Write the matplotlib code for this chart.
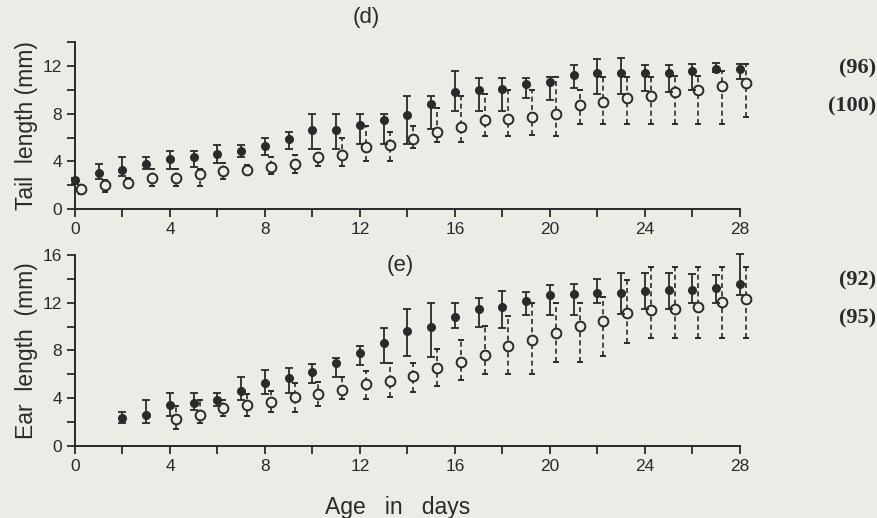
import numpy as np
import matplotlib
matplotlib.use('Agg')
import matplotlib.pyplot as plt
from matplotlib.ticker import MultipleLocator

# tail length (mm), days 0..28
tail_days = np.arange(0, 29)
tail_filled = [2.4, 3.05, 3.3, 3.75, 4.2, 4.4, 4.6, 4.9, 5.3, 5.85, 6.6, 6.6, 7.05, 7.5, 7.9,
               8.8, 9.8, 10.0, 10.1, 10.5, 10.7, 11.25, 11.4, 11.4, 11.45, 11.4, 11.6, 11.75, 11.75]
tail_filled_hi = [2.6, 3.8, 4.4, 4.4, 4.9, 4.9, 5.4, 5.4, 6.0, 6.5, 8.0, 8.0, 8.0, 8.0, 9.5,
                  9.5, 11.6, 11.0, 11.0, 11.0, 11.1, 12.1, 12.6, 12.7, 12.1, 12.1, 12.2, 12.3, 12.2]
tail_filled_lo = [2.1, 2.5, 2.8, 3.4, 3.4, 3.5, 3.9, 4.4, 4.5, 5.0, 5.0, 5.0, 5.5, 5.5, 5.5,
                  6.7, 8.2, 8.2, 8.2, 9.3, 9.15, 10.2, 9.7, 9.7, 9.9, 9.8, 10.0, 11.5, 10.9]
tail_open = [1.65, 2.0, 2.15, 2.6, 2.6, 2.9, 3.2, 3.3, 3.55, 3.75, 4.4, 4.5, 5.2, 5.4, 5.9,
             6.5, 6.85, 7.5, 7.6, 7.7, 8.0, 8.7, 9.0, 9.3, 9.5, 9.85, 10.0, 10.3, 10.6]
tail_open_hi = [1.9, 2.4, 2.6, 3.4, 3.4, 3.4, 3.9, 3.7, 4.4, 4.5, 5.0, 6.0, 7.0, 6.5, 7.0,
                8.5, 9.5, 9.7, 10.0, 10.0, 11.1, 10.0, 11.1, 11.1, 11.1, 11.15, 11.15, 11.6, 12.2]
tail_open_lo = [1.3, 1.4, 1.9, 1.9, 1.9, 1.9, 2.5, 3.0, 2.95, 3.0, 3.6, 3.6, 4.0, 4.0, 5.1,
                5.6, 5.6, 6.1, 6.1, 6.2, 6.1, 7.1, 7.1, 7.1, 7.1, 7.1, 7.1, 7.1, 7.7]

# ear length (mm)
ear_days_filled = np.arange(2, 29)
ear_filled = [2.3, 2.55, 3.4, 3.6, 3.85, 4.6, 5.3, 5.65, 6.2, 6.9, 7.75, 8.6, 9.65, 10.0,
              10.8, 11.45, 11.65, 12.15, 12.65, 12.7, 12.85, 12.85, 13.0, 13.05, 13.1, 13.2, 13.55]
ear_filled_hi = [2.85, 3.8, 4.4, 4.4, 4.4, 5.8, 6.35, 6.5, 6.85, 7.4, 8.35, 9.85, 11.5, 12.0,
                 12.0, 12.4, 13.0, 12.9, 13.5, 13.55, 14.0, 14.5, 14.5, 14.5, 14.45, 14.3, 16.1]
ear_filled_lo = [1.9, 1.9, 2.45, 3.0, 3.3, 3.85, 4.3, 4.4, 5.3, 5.8, 6.8, 6.9, 7.5, 7.45,
                 9.9, 9.95, 9.9, 10.95, 10.95, 10.95, 12.0, 11.05, 11.5, 11.5, 11.95, 12.0, 12.65]
ear_days_open = np.arange(4, 29)
ear_open = [2.25, 2.6, 3.2, 3.4, 3.7, 4.1, 4.35, 4.65, 5.15, 5.45, 5.85, 6.5, 7.05, 7.6,
            8.35, 8.87, 9.45, 10.05, 10.45, 11.15, 11.35, 11.5, 11.6, 12.1, 12.3]
ear_open_hi = [3.3, 3.8, 3.8, 4.3, 4.6, 5.25, 5.35, 5.8, 6.3, 6.9, 6.9, 8.1, 8.85, 10.05,
               10.9, 11.95, 12.0, 12.0, 12.45, 13.9, 15.0, 15.0, 15.0, 15.0, 15.0]
ear_open_lo = [1.4, 1.9, 2.45, 2.45, 2.85, 2.85, 3.3, 3.95, 3.9, 4.05, 4.5, 5.0, 5.55, 6.05,
               6.05, 6.0, 7.05, 7.05, 7.5, 8.6, 9.0, 9.0, 9.0, 9.0, 9.0]

tail_n = ['(96)', '(100)']
ear_n = ['(92)', '(95)']

bg = '#ecebe6'
ink = '#2a2a2a'
plt.rcParams['font.family'] = ['Liberation Sans', 'DejaVu Sans']


def draw_series(ax, x, mean, hi, lo, filled):
    mean = np.asarray(mean)
    err = [mean - np.asarray(lo), np.asarray(hi) - mean]
    if filled:
        line, caps, bars = ax.errorbar(x, mean, yerr=err, fmt='o', ms=5.5, mfc=ink, mec=ink,
                                       ecolor=ink, elinewidth=1.3, capsize=3, capthick=1.3,
                                       clip_on=False, zorder=3)
    else:
        line, caps, bars = ax.errorbar(np.asarray(x) + 0.25, mean, yerr=err, fmt='o', ms=7,
                                       mfc=bg, mec=ink, mew=1.4, ecolor=ink, elinewidth=1.2,
                                       capsize=2.5, capthick=1.2, clip_on=False, zorder=2)
        bars[0].set_linestyle((0, (3, 2)))
    for c in caps:
        c.set_clip_on(False)
    for b in bars:
        b.set_clip_on(False)


def style_axes(ax, ymax):
    ax.set_facecolor(bg)
    ax.set_xlim(0, 28)
    ax.set_ylim(0, ymax)
    for s in ['top', 'right']:
        ax.spines[s].set_visible(False)
    for s in ['left', 'bottom']:
        ax.spines[s].set_color(ink)
        ax.spines[s].set_linewidth(1.4)
    ax.xaxis.set_major_locator(MultipleLocator(4))
    ax.xaxis.set_minor_locator(MultipleLocator(2))
    ax.yaxis.set_major_locator(MultipleLocator(4))
    ax.yaxis.set_minor_locator(MultipleLocator(2))
    ax.tick_params(which='both', direction='out', length=6, width=1.3, color=ink,
                   labelcolor=ink, labelsize=12.5)
    ax.yaxis.set_label_coords(-0.056, 0.5)


fig = plt.figure(figsize=(8.78, 5.18), dpi=100, facecolor=bg)

ax1 = fig.add_axes([0.0854, 0.5965, 0.7574, 0.3218])
style_axes(ax1, 14)
draw_series(ax1, tail_days, tail_open, tail_open_hi, tail_open_lo, False)
draw_series(ax1, tail_days, tail_filled, tail_filled_hi, tail_filled_lo, True)
ax1.set_ylabel('Tail  length (mm)', fontsize=16.5, color=ink)

ax2 = fig.add_axes([0.0854, 0.1396, 0.7574, 0.368])
style_axes(ax2, 16)
draw_series(ax2, ear_days_open, ear_open, ear_open_hi, ear_open_lo, False)
draw_series(ax2, ear_days_filled, ear_filled, ear_filled_hi, ear_filled_lo, True)
ax2.set_ylabel('Ear  length  (mm)', fontsize=16.5, color=ink)
ax2.set_xlabel('Age   in   days', fontsize=16.5, color=ink)
ax2.xaxis.set_label_coords(0.485, -0.265)

fig.text(366 / 878, 1 - 18 / 518, '(d)', ha='center', va='center', fontsize=16, color=ink)
fig.text(400 / 878, 1 - 266 / 518, '(e)', ha='center', va='center', fontsize=16, color=ink)

serif = ['Liberation Serif', 'DejaVu Serif']
for ytop, label in zip([68, 106], tail_n):
    fig.text(876 / 878, 1 - ytop / 518, label, ha='right', va='center', fontsize=16,
             fontweight='bold', family=serif, color=ink)
for ytop, label in zip([280, 318], ear_n):
    fig.text(876 / 878, 1 - ytop / 518, label, ha='right', va='center', fontsize=16,
             fontweight='bold', family=serif, color=ink)

fig.savefig('out.png', dpi=100, facecolor=bg)
